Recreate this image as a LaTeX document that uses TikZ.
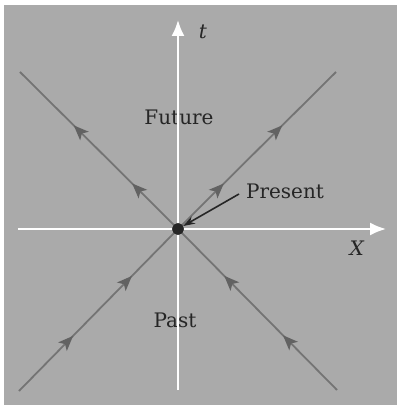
\documentclass[tikz,border=0pt]{standalone}
\usepackage{fontspec}
\setmainfont{DejaVu Serif}
\usetikzlibrary{positioning, arrows.meta, calc, decorations.markings}

\definecolor{bggray}{RGB}{170,170,170}
\definecolor{raygray}{RGB}{116,116,116}
\definecolor{tipgray}{RGB}{98,98,98}
\definecolor{inkgray}{RGB}{38,38,38}

\begin{document}
\begin{tikzpicture}
    [
        x=0.5pt, y=0.5pt,
        axis/.style={draw=white, line width=1pt, -{Latex[length=8pt, width=6.5pt]}},
        ray/.style 2 args={draw=raygray, line width=0.9pt, postaction={decorate},
            decoration={markings,
                mark=at position #1 with {\arrow[tipgray]{Stealth[length=7.5pt, width=6pt, inset=1.8pt]}},
                mark=at position #2 with {\arrow[tipgray]{Stealth[length=7.5pt, width=6pt, inset=1.8pt]}}}},
        dot/.style={draw=inkgray, fill=inkgray, circle, inner sep=0pt, minimum size=5.5pt},
        pointer/.style={draw=inkgray, line width=0.8pt, -{Stealth[length=6pt, width=4pt]}},
        tag/.style={text=inkgray, font=\fontsize{10}{12}\selectfont}
    ]
        % =========================================================================
        % FRAME
        % =========================================================================
        \useasboundingbox (-178,-178) rectangle (220,229);
        \fill [bggray] (-174,-176) rectangle (219,224);

        % =========================================================================
        % NODES
        % =========================================================================
        \node [dot] (o) at (0,0) {};
        % --- axis ends ---
        \coordinate (xl) at (-160,0);
        \coordinate (xr) at (208,0);
        \coordinate (tb) at (0,-161);
        \coordinate (tt) at (0,209);
        % --- light cone ends ---
        \coordinate (ul) at (-158,157);
        \coordinate (ur) at (158,157);
        \coordinate (ll) at (-159,-162);
        \coordinate (lr) at (159,-161);
        % --- texts ---
        \node [tag] (t) at (25,197) {\textit{t}};
        \node [tag] (x) at (179,-19) {\textit{X}};
        \node [tag] (future) at (1,112) {Future};
        \node [tag] (past) at (-3,-91) {Past};
        \node [tag, anchor=west] (present) at (61,38) {Present};

        % =========================================================================
        % PATHS
        % =========================================================================
        % --- AXES ---
        \draw [axis] (xl) -- (xr);
        \draw [axis] (tb) -- (tt);
        % --- LIGHT CONE ---
        %  future: away from the present
        \draw [ray={0.29}{0.66}] (o.center) -- (ul);
        \draw [ray={0.29}{0.66}] (o.center) -- (ur);
        %  past: towards the present
        \draw [ray={0.34}{0.71}] (ll) -- (o.center);
        \draw [ray={0.34}{0.71}] (lr) -- (o.center);
        \node [dot] at (o) {};
        % --- POINTER ---
        \draw [pointer] ($(present.west)+(0,-3)$) -- (o);

    \end{tikzpicture}
\end{document}
